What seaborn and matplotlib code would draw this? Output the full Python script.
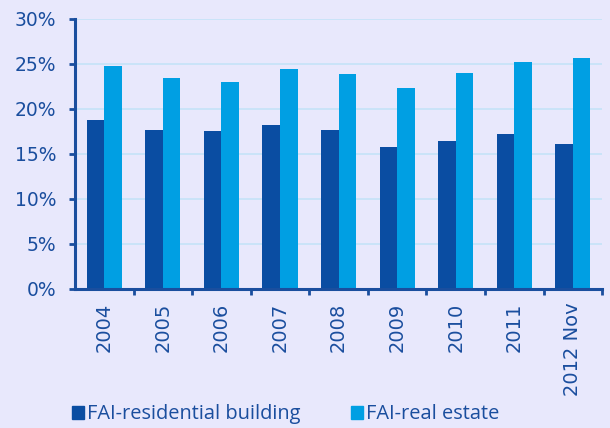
import matplotlib
matplotlib.use("Agg")
import matplotlib.pyplot as plt
import numpy as np
import pandas as pd
import seaborn as sns
from matplotlib.ticker import FixedLocator, PercentFormatter

# data
years = ['2004', '2005', '2006', '2007', '2008', '2009', '2010', '2011', '2012 Nov']
residential = [18.8, 17.6, 17.5, 18.2, 17.6, 15.8, 16.4, 17.25, 16.1]
real_estate = [24.8, 23.4, 23.0, 24.4, 23.85, 22.3, 23.95, 25.2, 25.7]
series_names = ['FAI-residential building', 'FAI-real estate']

df = pd.DataFrame({
    'year': years * 2,
    'value': residential + real_estate,
    'series': [series_names[0]] * len(years) + [series_names[1]] * len(years),
})

bg = '#E8E8FC'
txt = '#1A4E9E'
colors = ['#0A4DA2', '#009FE3']

sns.set_theme(style='white')
plt.rcParams['font.family'] = ['DejaVu Sans']

fig = plt.figure(figsize=(6.1, 4.28), dpi=100, facecolor=bg)
ax = fig.add_axes([0.123, 0.325, 0.864, 0.631])
ax.set_facecolor(bg)

sns.barplot(data=df, x='year', y='value', hue='series', palette=colors,
            width=0.6, gap=0, saturation=1, ax=ax, legend=False,
            edgecolor='none')

ax.set_ylim(0, 30)
ax.set_xlim(-0.5, len(years) - 0.5)
ax.set_yticks(np.arange(0, 31, 5))
ax.yaxis.set_major_formatter(PercentFormatter(decimals=0))
ax.yaxis.grid(True, color='#C5E3F8', linewidth=1.2)
ax.set_axisbelow(True)

# category boundaries carry the tick marks, labels sit at the centres
ax.xaxis.set_minor_locator(FixedLocator(np.arange(0.5, len(years), 1)))
ax.tick_params(axis='x', which='major', length=0, labelrotation=90,
               labelsize=14, labelcolor=txt, pad=10)
ax.tick_params(axis='x', which='minor', length=4.3, width=2, color=txt,
               direction='out', bottom=True)
ax.tick_params(axis='y', length=4.3, width=2, color=txt, labelsize=13.5,
               labelcolor=txt, left=True, pad=9)
for lab in ax.get_xticklabels():
    lab.set_verticalalignment('top')

for s in ['top', 'right']:
    ax.spines[s].set_visible(False)
for s in ['left', 'bottom']:
    ax.spines[s].set_color(txt)
    ax.spines[s].set_linewidth(2.2)

ax.set_xlabel('')
ax.set_ylabel('')

handles = [plt.Rectangle((0, 0), 1, 1, color=c) for c in colors]
fig.legend(handles, series_names, loc='center left', bbox_to_anchor=(0.118, 0.032),
           ncol=2, frameon=False, borderpad=0, borderaxespad=0,
           handlelength=0.6, handleheight=0.65, handletextpad=0.17,
           columnspacing=2.5, labelcolor=txt,
           prop={'family': ['Open Sans', 'DejaVu Sans'], 'size': 14.4})

fig.savefig('out.png', dpi=100, facecolor=bg)
